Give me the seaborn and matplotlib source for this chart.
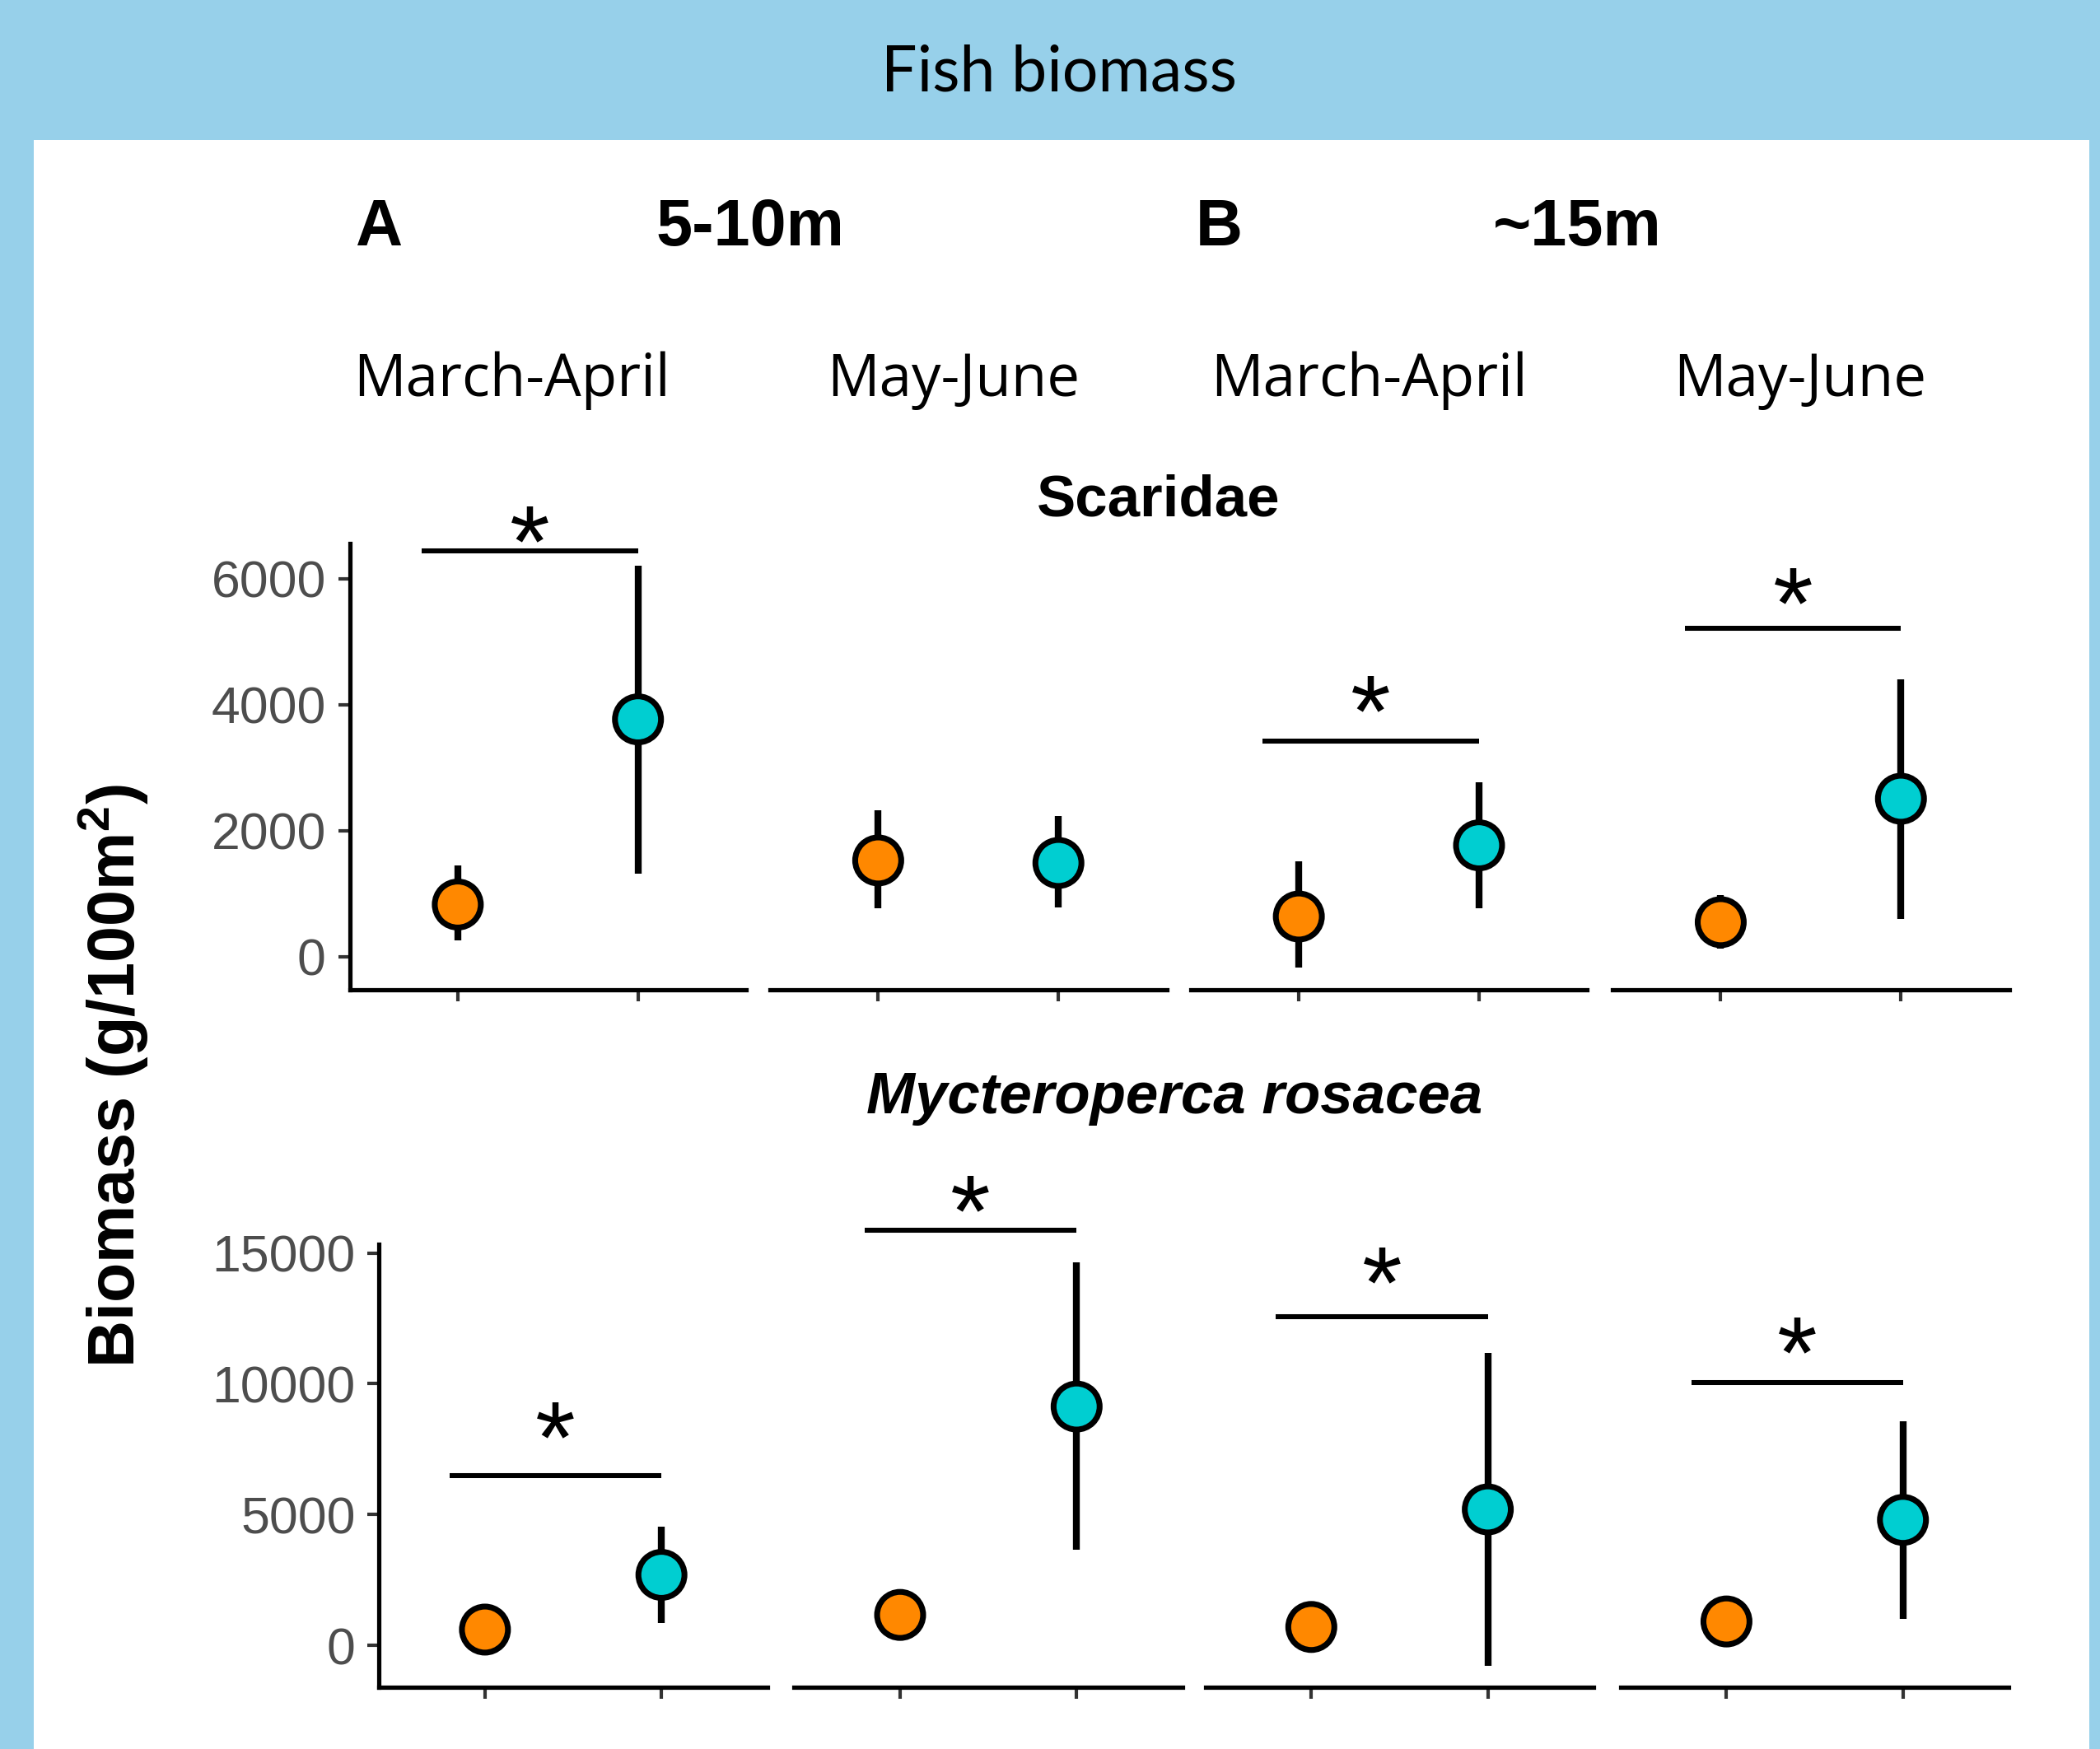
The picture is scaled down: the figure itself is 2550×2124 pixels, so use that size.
import numpy as np
import pandas as pd
import matplotlib.pyplot as plt
import seaborn as sns
from matplotlib.patches import Rectangle

# groups compared inside each panel (orange, turquoise)
groups = ['Group 1', 'Group 2']
colors = ['#FF8800', '#00CED1']
seasons = ['March-April', 'May-June', 'March-April', 'May-June']

# Scaridae, one pair per panel
scar_mean = [[830, 3770], [1530, 1490], [640, 1770], [550, 2510]]
scar_low = [[255, 1320], [770, 790], [-170, 770], [130, 600]]
scar_high = [[1450, 6210], [2320, 2230], [1510, 2770], [980, 4400]]
scar_sig = [6450, None, 3430, 5210]
scar_star = [6900, None, 4210, 5930]

# Mycteroperca rosacea
myc_mean = [[610, 2700], [1170, 9130], [710, 5200], [920, 4800]]
myc_low = [[610, 870], [1170, 3670], [710, -770], [920, 1020]]
myc_high = [[610, 4540], [1170, 14640], [710, 11170], [920, 8570]]
myc_sig = [6480, 15870, 12550, 10050]
myc_star = [8690, 17370, 14630, 11940]

sns.set_style('ticks')
plt.rcParams['font.family'] = ['Liberation Sans', 'DejaVu Sans']
plt.rcParams['text.color'] = 'black'
plt.rcParams['mathtext.fontset'] = 'custom'
plt.rcParams['mathtext.rm'] = 'Liberation Sans'
plt.rcParams['mathtext.bf'] = 'Liberation Sans:bold'

fig = plt.figure(figsize=(8.5, 7.08), dpi=300, facecolor='#97D0EA')
fig.add_artist(Rectangle((0.0161, 0), 0.9949 - 0.0161, 0.920,
                         transform=fig.transFigure, facecolor='white',
                         edgecolor='none', zorder=-1))

rows = [
    dict(mean=scar_mean, low=scar_low, high=scar_high, sig=scar_sig, star=scar_star,
         lefts=[0.1665, 0.3667, 0.5670, 0.7679], width=0.1888,
         bottom=0.4342, height=0.2550, ylim=(-520, 6560), ticks=[0, 2000, 4000, 6000]),
    dict(mean=myc_mean, low=myc_low, high=myc_high, sig=myc_sig, star=myc_star,
         lefts=[0.1805, 0.3782, 0.5740, 0.7717], width=0.1849,
         bottom=0.0352, height=0.2534, ylim=(-1600, 15330), ticks=[0, 5000, 10000, 15000]),
]

for r in rows:
    for i in range(4):
        ax = fig.add_axes([r['lefts'][i], r['bottom'], r['width'], r['height']])
        ax.set_facecolor('none')
        pos = np.arange(len(groups))
        df = pd.DataFrame({'pos': pos, 'group': groups, 'biomass': r['mean'][i]})
        ax.vlines(pos, r['low'][i], r['high'][i], color='black', lw=2.0, zorder=2)
        sns.scatterplot(data=df, x='pos', y='biomass', hue='group', palette=colors,
                        s=180, edgecolor='black', linewidth=1.7, legend=False,
                        zorder=3, ax=ax)
        if r['sig'][i] is not None:
            ax.plot([-0.2, 1.0], [r['sig'][i]] * 2, color='black', lw=1.45,
                    solid_capstyle='butt', clip_on=False, zorder=2)
            ax.annotate('*', (0.4, r['star'][i]), xytext=(0, -16),
                        textcoords='offset points', ha='center', va='baseline',
                        fontsize=30, annotation_clip=False)
        ax.set_xlim(-0.6, 1.6)
        ax.set_ylim(*r['ylim'])
        ax.set_xticks(pos)
        ax.set_xticklabels([])
        ax.set_xlabel('')
        ax.set_ylabel('')
        ax.tick_params(axis='both', length=3.4, width=1.0, color='#333333',
                       labelsize=15, labelcolor='#4D4D4D', pad=3.5)
        sns.despine(ax=ax, left=(i > 0))
        for sp in ax.spines.values():
            sp.set_linewidth(1.25)
            sp.set_color('black')
        if i == 0:
            ax.set_yticks(r['ticks'])
        else:
            ax.set_yticks([])

# header and labels
fig.text(0.5045, 0.958, 'Fish biomass', ha='center', va='center',
         fontsize=18.5, family=['Lato', 'DejaVu Sans'])
fig.text(0.169, 0.8599, 'A', fontsize=19, fontweight='bold', va='baseline')
fig.text(0.3125, 0.8599, '5-10m', fontsize=19, fontweight='bold', va='baseline')
fig.text(0.5695, 0.8599, 'B', fontsize=19, fontweight='bold', va='baseline')
fig.text(0.7111, 0.8599, '~15m', fontsize=19, fontweight='bold', va='baseline')
for x, s in zip([0.2436, 0.4541, 0.6518, 0.8571], seasons):
    fig.text(x, 0.7734, s, ha='center', va='baseline', fontsize=17,
             family=['Open Sans', 'DejaVu Sans'])
fig.text(0.5517, 0.7052, 'Scaridae', ha='center', va='baseline',
         fontsize=17, fontweight='bold')
fig.text(0.5593, 0.3637, 'Mycteroperca rosacea', ha='center', va='baseline',
         fontsize=17, fontweight='bold', fontstyle='italic')
fig.text(0.0542, 0.385, r'Biomass (g/100m$^\mathbf{2}$)', rotation=90,
         ha='center', va='center', fontsize=19, fontweight='bold')

fig.savefig('out.png', dpi=300, facecolor=fig.get_facecolor())
